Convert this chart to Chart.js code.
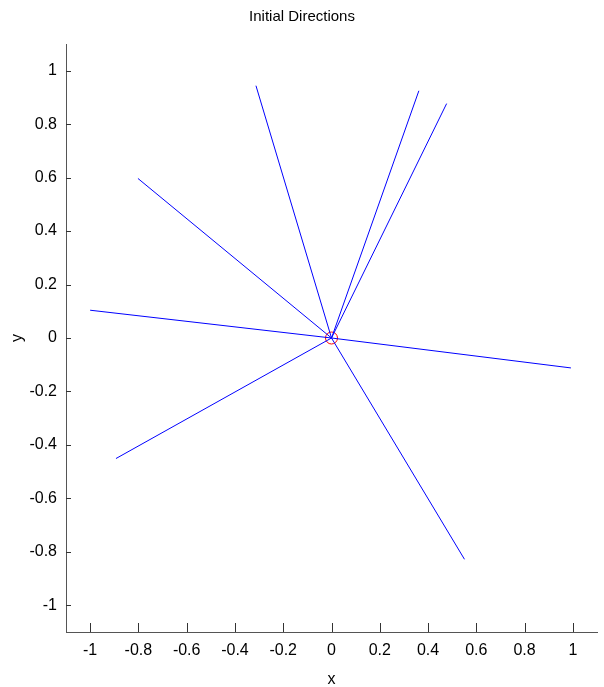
<!DOCTYPE html>
<html>
<head>
<meta charset="utf-8">
<script src="https://cdn.jsdelivr.net/npm/chart.js@4.4.1/dist/chart.umd.min.js"></script>
<style>
  html, body { margin: 0; padding: 0; background: #fff; }
  #wrap { width: 604px; height: 687px; }
</style>
</head>
<body>
<div id="wrap"><canvas id="chart"></canvas></div>
<script>
// end points of each initial direction (all start at the origin)
const endX = [-0.313, 0.362, 0.477, -0.802, -1.0, 0.992, -0.893, 0.551];
const endY = [0.944, 0.925, 0.877, 0.597, 0.104, -0.112, -0.451, -0.828];
const originX = [0];
const originY = [0];
const tickValues = [-1, -0.8, -0.6, -0.4, -0.2, 0, 0.2, 0.4, 0.6, 0.8, 1];

const fontFamily = '"Liberation Sans Narrow", "Liberation Sans", Arial, sans-serif';

const datasets = endX.map((x, i) => ({
    data: [{ x: originX[0], y: originY[0] }, { x: x, y: endY[i] }],
    showLine: true,
    borderColor: '#0000ff',
    borderWidth: 1,
    pointRadius: 0,
}));

datasets.push({
    data: originX.map((x, i) => ({ x: x, y: originY[i] })),
    showLine: false,
    pointRadius: 6,
    pointStyle: 'circle',
    borderColor: '#ff0000',
    backgroundColor: 'rgba(0,0,0,0)',
    borderWidth: 1,
});

const fmt = (v) => String(Math.round(v * 10) / 10);

// small inward ticks like the original figure
const inwardTicks = {
    id: 'inwardTicks',
    afterDraw(chart) {
        const ctx = chart.ctx;
        const xs = chart.scales.x;
        const ys = chart.scales.y;
        const area = chart.chartArea;
        ctx.save();
        ctx.strokeStyle = '#333';
        ctx.lineWidth = 1;
        ctx.beginPath();
        tickValues.forEach(v => {
            const px = Math.round(xs.getPixelForValue(v)) + 0.5;
            ctx.moveTo(px, area.bottom);
            ctx.lineTo(px, area.bottom - 9);
            const py = Math.round(ys.getPixelForValue(v)) + 0.5;
            ctx.moveTo(area.left, py);
            ctx.lineTo(area.left + 5, py);
        });
        ctx.stroke();
        ctx.restore();
    }
};

new Chart(document.getElementById('chart'), {
    type: 'scatter',
    data: { datasets: datasets },
    options: {
        responsive: true,
        maintainAspectRatio: false,
        animation: false,
        layout: { padding: { left: 0, right: 0, top: 0, bottom: 0 } },
        plugins: {
            legend: { display: false },
            tooltip: { enabled: false },
            title: {
                display: true,
                text: 'Initial Directions',
                color: '#000',
                font: { family: fontFamily, size: 15, weight: 'normal', lineHeight: 1.2 },
                padding: { top: 8, bottom: 18 },
            },
        },
        scales: {
            x: {
                type: 'linear',
                min: -1.1,
                max: 1.1,
                afterFit: (scale) => {
                    scale.height = 55;
                    scale.paddingLeft = 0;
                    scale.paddingRight = 0;
                },
                afterBuildTicks: (scale) => { scale.ticks = tickValues.map(v => ({ value: v })); },
                ticks: {
                    color: '#000',
                    padding: 9,
                    maxRotation: 0,
                    font: { family: fontFamily, size: 16 },
                    callback: fmt,
                },
                grid: { display: true, drawOnChartArea: false, drawTicks: false },
                border: { display: true, color: '#555', width: 1 },
                title: {
                    display: true,
                    text: 'x',
                    color: '#000',
                    font: { family: fontFamily, size: 16 },
                    padding: { top: 0, bottom: -2 },
                },
            },
            y: {
                type: 'linear',
                min: -1.1,
                max: 1.1,
                afterFit: (scale) => {
                    scale.width = 66;
                    scale.paddingTop = 0;
                    scale.paddingBottom = 0;
                },
                afterBuildTicks: (scale) => { scale.ticks = tickValues.map(v => ({ value: v })); },
                ticks: {
                    color: '#000',
                    padding: 9,
                    font: { family: fontFamily, size: 16 },
                    callback: fmt,
                },
                grid: { display: true, drawOnChartArea: false, drawTicks: false },
                border: { display: true, color: '#555', width: 1 },
                title: {
                    display: true,
                    text: 'y',
                    color: '#000',
                    font: { family: fontFamily, size: 16 },
                    padding: { top: 8, bottom: 0 },
                },
            },
        },
    },
    plugins: [inwardTicks],
});
</script>
</body>
</html>
